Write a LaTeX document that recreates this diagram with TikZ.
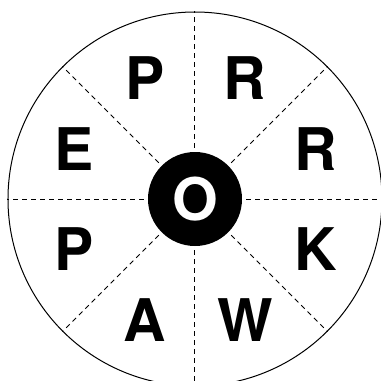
\documentclass[tikz,border=0pt]{standalone}
\usepackage{fontspec}
\setmainfont{TeX Gyre Heros}
\usepackage{tikz}
\tikzset{
  ring/.style   = {draw=black, circle, line width=1bp, minimum size=374bp, inner sep=0pt},
  hub/.style    = {fill=black, circle, minimum size=94bp, inner sep=0pt,
                   text=white, font=\fontsize{59}{61}\selectfont\bfseries},
  spoke/.style  = {draw=black, line width=1bp, dash pattern=on 5bp off 4bp, shorten <=4bp},
  letter/.style = {inner sep=0pt, font=\fontsize{59}{61}\selectfont\bfseries},
}
\begin{document}
\begin{tikzpicture}[x=1bp,y=1bp]
\useasboundingbox (-195,-182) rectangle (186,199);

% ---------------------------------------------------------------- wheel
\node[ring] (ring) at (0,0) {};
\node[hub]  (hub)  at (0,0) {O};

\foreach \a in {0,45,...,315}{\draw[spoke] (hub.\a) -- (ring.\a);}

% ---------------------------------------------------------------- letters
\foreach \n/\a/\t in {l1/112.5/P, l2/67.5/R, l3/22.5/R, l4/-22.5/K,
                      l5/-67.5/W, l6/-112.5/A, l7/-157.5/P, l8/157.5/E}{
  \node[letter] (\n) at (\a:131) {\t};
}

\end{tikzpicture}
\end{document}
